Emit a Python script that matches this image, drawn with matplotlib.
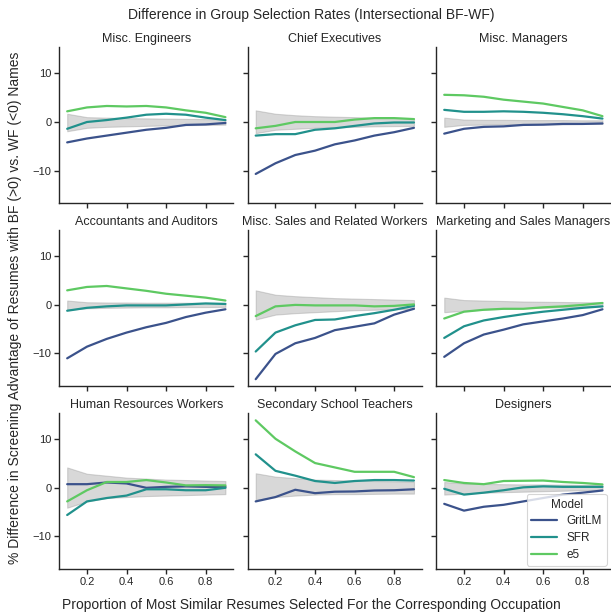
import numpy as np
import matplotlib
matplotlib.use("Agg")
import matplotlib.pyplot as plt
import seaborn as sns

# proportion of most similar resumes kept
proportions = [0.1, 0.2, 0.3, 0.4, 0.5, 0.6, 0.7, 0.8, 0.9]

occupations = [
    "Misc. Engineers", "Chief Executives", "Misc. Managers",
    "Accountants and Auditors", "Misc. Sales and Related Workers", "Marketing and Sales Managers",
    "Human Resources Workers", "Secondary School Teachers", "Designers",
]

models = ["GritLM", "SFR", "e5"]

gritlm_vals = [
    [-4.2, -3.4, -2.8, -2.2, -1.6, -1.2, -0.6, -0.5, -0.2],
    [-10.7, -8.5, -6.8, -5.9, -4.6, -3.8, -2.8, -2.1, -1.2],
    [-2.4, -1.4, -1.0, -0.9, -0.6, -0.55, -0.4, -0.4, -0.3],
    [-11.0, -8.6, -7.0, -5.7, -4.6, -3.7, -2.5, -1.6, -0.9],
    [-15.3, -10.1, -7.9, -6.8, -5.2, -4.5, -3.8, -2.0, -0.8],
    [-10.7, -7.9, -6.1, -5.1, -4.0, -3.4, -2.8, -2.1, -0.9],
    [0.75, 0.75, 1.1, 0.9, 0.0, 0.2, 0.3, 0.2, 0.2],
    [-2.8, -1.9, -0.4, -1.1, -0.8, -0.75, -0.55, -0.5, -0.3],
    [-3.3, -4.7, -3.9, -3.5, -2.8, -2.1, -1.4, -1.0, -0.55],
]

sfr_vals = [
    [-1.4, 0.0, 0.4, 0.9, 1.5, 1.7, 1.5, 0.9, 0.4],
    [-2.8, -2.5, -2.5, -1.6, -1.3, -0.8, -0.3, -0.1, -0.1],
    [2.5, 2.1, 2.1, 2.2, 2.1, 1.9, 1.6, 1.2, 0.7],
    [-1.2, -0.6, -0.3, -0.1, -0.1, -0.1, 0.1, 0.3, 0.2],
    [-9.6, -5.7, -4.2, -3.1, -3.0, -2.3, -1.7, -1.0, -0.2],
    [-6.8, -4.4, -3.2, -2.5, -1.9, -1.4, -1.0, -0.6, -0.3],
    [-5.6, -2.8, -2.1, -1.6, -0.3, -0.3, -0.5, -0.5, 0.0],
    [6.9, 3.5, 2.5, 1.4, 1.0, 1.4, 1.6, 1.6, 1.5],
    [-0.2, -1.4, -1.0, -0.5, 0.1, 0.3, 0.2, 0.2, 0.2],
]

e5_vals = [
    [2.2, 3.0, 3.3, 3.2, 3.3, 3.0, 2.4, 1.9, 1.0],
    [-1.3, -0.8, 0.0, 0.0, 0.0, 0.5, 0.8, 0.8, 0.6],
    [5.6, 5.5, 5.2, 4.6, 4.2, 3.8, 3.1, 2.4, 1.2],
    [3.0, 3.7, 3.9, 3.4, 2.9, 2.3, 1.9, 1.5, 0.9],
    [-2.3, -0.3, 0.0, -0.1, -0.1, -0.1, -0.3, -0.2, 0.1],
    [-2.8, -1.4, -1.0, -0.8, -0.8, -0.5, -0.3, 0.0, 0.4],
    [-2.8, -0.5, 1.2, 1.2, 1.6, 1.1, 0.5, 0.55, 0.5],
    [13.9, 10.1, 7.5, 5.1, 4.2, 3.3, 3.3, 3.3, 2.2],
    [1.6, 1.0, 0.75, 1.4, 1.45, 1.5, 1.2, 1.0, 0.7],
]

# null band (range expected by chance)
band_upper = [
    [1.7, 1.0, 0.9, 0.8, 0.75, 0.7, 0.65, 0.6, 0.55],
    [2.4, 1.7, 1.4, 1.2, 1.1, 1.0, 0.9, 0.85, 0.8],
    [0.9, 0.5, 0.45, 0.45, 0.4, 0.4, 0.4, 0.35, 0.35],
    [0.9, 0.55, 0.5, 0.5, 0.45, 0.45, 0.45, 0.4, 0.4],
    [3.0, 2.1, 1.8, 1.6, 1.4, 1.3, 1.2, 1.1, 1.0],
    [1.5, 1.0, 0.9, 0.8, 0.7, 0.65, 0.6, 0.55, 0.55],
    [4.2, 2.9, 2.5, 2.1, 1.9, 1.7, 1.6, 1.5, 1.4],
    [3.0, 2.3, 2.0, 1.7, 1.6, 1.5, 1.4, 1.35, 1.3],
    [1.2, 0.9, 0.8, 0.75, 0.7, 0.7, 0.65, 0.6, 0.6],
]

band_lower = [
    [-1.9, -1.2, -1.0, -0.9, -0.8, -0.7, -0.65, -0.6, -0.55],
    [-2.3, -1.6, -1.4, -1.2, -1.1, -1.0, -0.9, -0.85, -0.8],
    [-1.0, -0.6, -0.55, -0.5, -0.5, -0.45, -0.45, -0.4, -0.4],
    [-1.0, -0.7, -0.6, -0.55, -0.5, -0.5, -0.45, -0.45, -0.4],
    [-3.0, -2.0, -1.7, -1.5, -1.3, -1.1, -1.0, -0.9, -0.8],
    [-1.5, -1.2, -1.0, -0.8, -0.7, -0.6, -0.5, -0.4, -0.3],
    [-4.1, -2.8, -2.1, -1.9, -1.7, -1.6, -1.5, -1.4, -1.3],
    [-2.5, -1.9, -1.6, -1.4, -1.3, -1.3, -1.25, -1.2, -1.2],
    [-1.4, -1.2, -1.0, -0.9, -0.8, -0.7, -0.6, -0.5, -0.4],
]

sns.set_style("ticks")
plt.rcParams['font.family'] = ['Liberation Sans', 'DejaVu Sans']
plt.rcParams['axes.edgecolor'] = '.15'
plt.rcParams['xtick.color'] = '.15'
plt.rcParams['ytick.color'] = '.15'

colors = sns.color_palette("viridis", 3)
series = [gritlm_vals, sfr_vals, e5_vals]

fig, axes = plt.subplots(3, 3, figsize=(6.11, 6.16), dpi=100, sharex=True, sharey=True)
fig.subplots_adjust(left=0.097, right=0.999, top=0.923, bottom=0.076,
                    wspace=0.083, hspace=0.173)

x = np.array(proportions)
for i, ax in enumerate(axes.flat):
    ax.fill_between(x, band_lower[i], band_upper[i], color='gray', alpha=0.3,
                    linewidth=0.8, zorder=1)
    for name, vals, c in zip(models, series, colors):
        ax.plot(x, vals[i], color=c, lw=1.6, label=name, zorder=2)
    ax.set_title(occupations[i], fontsize=9, pad=4, color='.15')
    ax.tick_params(labelsize=8, length=3.5, width=1, pad=2)
    for side in ['left', 'bottom']:
        ax.spines[side].set_linewidth(1.0)
    sns.despine(ax=ax)

axes[0, 0].set_xticks([0.2, 0.4, 0.6, 0.8])
axes[0, 0].set_yticks([-10, 0, 10])

leg = axes[2, 2].legend(title="Model", loc='lower right', fontsize=8.5,
                        title_fontsize=8.5, frameon=True, borderaxespad=0.3,
                        handlelength=2.2, labelspacing=0.4)
leg.get_frame().set_linewidth(0.8)

fig.text(0.51, 0.976, "Difference in Group Selection Rates (Intersectional BF-WF)",
         ha='center', va='center', fontsize=10, color='.15')
fig.text(0.51, 0.018, "Proportion of Most Similar Resumes Selected For the Corresponding Occupation",
         ha='center', va='center', fontsize=10, color='.15')
fig.text(0.024, 0.5, "% Difference in Screening Advantage of Resumes with BF (>0) vs. WF (<0) Names",
         ha='center', va='center', rotation=90, fontsize=10, color='.15')

fig.savefig("out.png", dpi=100)
